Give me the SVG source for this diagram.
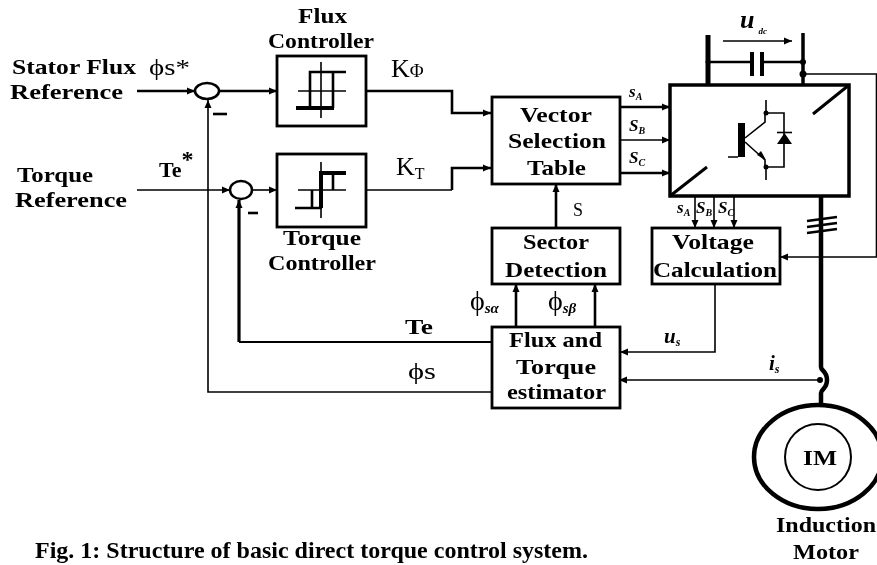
<svg xmlns="http://www.w3.org/2000/svg" width="877" height="565" viewBox="0 0 877 565">
<defs>
<marker id="a" markerWidth="9" markerHeight="8" refX="8" refY="4" orient="auto" markerUnits="userSpaceOnUse"><path d="M0,0.5L8,4L0,7.5Z" fill="#000"/></marker>
<marker id="b" markerWidth="9" markerHeight="8" refX="1" refY="4" orient="auto" markerUnits="userSpaceOnUse"><path d="M8,0.5L0,4L8,7.5Z" fill="#000"/></marker>
<filter id="soft" x="0" y="0" width="100%" height="100%"><feGaussianBlur stdDeviation="0.45"/></filter>
</defs>
<style>
text{font-family:"Liberation Serif","Times New Roman",serif;fill:#000}
.t{font-weight:bold;font-size:22px}
.n{font-size:24px}
.i{font-weight:bold;font-style:italic}
.box{fill:#fff;stroke:#000;stroke-width:2.800}
.w{fill:none;stroke:#000;stroke-width:1.600}
.m{fill:none;stroke:#000;stroke-width:2.600}
.h{fill:none;stroke:#000;stroke-width:4.500}
.ar{marker-end:url(#a)}
</style>
<rect width="877" height="565" fill="#fff"/>
<g filter="url(#soft)">
<g id="connectors">
<path class="m ar" d="M137 91H195"/>
<path class="m ar" d="M219 91H277"/>
<path class="w ar" d="M137 190H230"/>
<path class="w ar" d="M252 190H277"/>
<path class="w ar" d="M491 392H208V100"/>
<path class="w" d="M491 342H239" style="stroke-width:2"/>
<path class="m ar" d="M239 342V200" style="stroke-width:3.200"/>
<path class="m ar" d="M366 91H452V113H491"/>
<path class="w" d="M366 190H452"/>
<path class="m ar" d="M452 190V168H491"/>
<path class="m ar" d="M620 107H670"/>
<path class="w ar" d="M620 140H670"/>
<path class="m ar" d="M620 173H670"/>
<path class="m ar" d="M556 228V184"/>
<path class="m ar" d="M516 327V284"/>
<path class="m ar" d="M595 327V284"/>
<path class="w ar" d="M695 196V228"/>
<path class="w ar" d="M714 196V228"/>
<path class="w ar" d="M734 196V228"/>
<path class="w ar" d="M715 284V352H620"/>
<path class="w" d="M803 74H876.500V257H780" marker-end="url(#a)"/>
<path class="w" d="M620 380H820" marker-start="url(#b)"/>
<circle cx="820" cy="380" r="3"/>
<path class="h" d="M708 35V85" style="stroke-width:5"/>
<path class="m" d="M803 33V85" style="stroke-width:3.500"/>
<path class="m" d="M708 62H752M762 62H803"/>
<path class="w ar" d="M723 41H792"/>
<path class="h" d="M821 196V367C821 371 827 371 827 380C827 389 821 389 821 393V405"/>
<path class="m" d="M807 221L837 217M807 227L837 223M807 233L837 229"/>
<circle cx="708" cy="62" r="2.500"/><circle cx="803" cy="62" r="3"/><circle cx="803" cy="74" r="3.500"/>
</g>
<g id="sum1"><ellipse cx="207" cy="91" rx="12" ry="8" fill="#fff" stroke="#000" stroke-width="2.500"/><path class="m" d="M213 114H227"/></g>
<g id="sum2"><ellipse cx="241" cy="190" rx="11" ry="9" fill="#fff" stroke="#000" stroke-width="2.500"/><path class="m" d="M248 213H258"/></g>
<g id="flux-controller"><rect class="box" x="277" y="56" width="89" height="70"/>
<path class="w" d="M321 62V118M298 91H346"/>
<path class="m" d="M346 72H310V108M333 72V108"/><path class="h" d="M296 108H334" style="stroke-width:4"/>
<text class="t" x="298" y="23" textLength="49" lengthAdjust="spacingAndGlyphs">Flux</text><text class="t" x="268" y="48" textLength="106" lengthAdjust="spacingAndGlyphs">Controller</text></g>
<g id="torque-controller"><rect class="box" x="277" y="154" width="89" height="73"/>
<path class="w" d="M321 162V218M298 190H346"/>
<path class="h" d="M346 173H321V208" style="stroke-width:4"/><path class="m" d="M333 173V190M295 208H322M312 190V208"/>
<text class="t" x="283" y="245" textLength="78" lengthAdjust="spacingAndGlyphs">Torque</text><text class="t" x="268" y="270" textLength="108" lengthAdjust="spacingAndGlyphs">Controller</text></g>
<g id="vector-table"><rect class="box" x="492" y="97" width="128" height="87"/>
<text class="t" x="520" y="122" textLength="72" lengthAdjust="spacingAndGlyphs">Vector</text><text class="t" x="508" y="148" textLength="98" lengthAdjust="spacingAndGlyphs">Selection</text><text class="t" x="527" y="175" textLength="59" lengthAdjust="spacingAndGlyphs">Table</text></g>
<g id="sector"><rect class="box" x="492" y="228" width="128" height="56"/>
<text class="t" x="523" y="249" textLength="66" lengthAdjust="spacingAndGlyphs">Sector</text><text class="t" x="505" y="277" textLength="102" lengthAdjust="spacingAndGlyphs">Detection</text></g>
<g id="voltage"><rect class="box" x="652" y="228" width="128" height="56"/>
<text class="t" x="672" y="249" textLength="82" lengthAdjust="spacingAndGlyphs">Voltage</text><text class="t" x="653" y="277" textLength="124" lengthAdjust="spacingAndGlyphs">Calculation</text></g>
<g id="estimator"><rect class="box" x="492" y="327" width="128" height="81"/>
<text class="t" x="509" y="347" textLength="93" lengthAdjust="spacingAndGlyphs">Flux and</text><text class="t" x="516" y="374" textLength="80" lengthAdjust="spacingAndGlyphs">Torque</text><text class="t" x="507" y="399" textLength="99" lengthAdjust="spacingAndGlyphs">estimator</text></g>
<g id="inverter"><rect x="670" y="85" width="179" height="111" fill="#fff" stroke="#000" stroke-width="3.500"/>
<path class="m" d="M849 85L813 114M670 196L707 167" style="stroke-width:3"/>
<path class="h" d="M741.500 123V157" style="stroke-width:7"/>
<path class="w" d="M728 157H738M745 138L765 122V113M745 142L765 160V168M766 100V113M766 168V180M766 113H784V167H766"/>
<path d="M777 144H792L784.500 133Z"/><path class="w" d="M777 132.500H792"/>
<circle cx="766" cy="113" r="2.500"/><circle cx="766" cy="167" r="2.500"/><path d="M757 155L766 160L761 151Z"/>
</g>
<path id="capacitor" d="M752 52V76M762 52V76" fill="none" stroke="#000" stroke-width="4"/>
<g id="motor"><ellipse cx="818" cy="457" rx="64" ry="52" fill="#fff" stroke="#000" stroke-width="4.500"/><ellipse cx="818" cy="457" rx="33" ry="33" fill="#fff" stroke="#000" stroke-width="2"/>
<text class="t" x="803" y="465" textLength="34" lengthAdjust="spacingAndGlyphs">IM</text><text class="t" x="776" y="532" textLength="100" lengthAdjust="spacingAndGlyphs">Induction</text><text class="t" x="793" y="559" textLength="66" lengthAdjust="spacingAndGlyphs">Motor</text></g>
<g id="labels">
<text class="t" x="12" y="74" textLength="124" lengthAdjust="spacingAndGlyphs">Stator Flux</text><text class="t" x="10" y="99" textLength="113" lengthAdjust="spacingAndGlyphs">Reference</text>
<text class="n" x="149" y="75" textLength="41" lengthAdjust="spacingAndGlyphs">ϕs*</text>
<text x="391" y="77" font-size="26">K<tspan font-size="19">Φ</tspan></text><text x="396" y="175" font-size="26">K<tspan font-size="16" dy="4">T</tspan></text>
<text class="t" x="17" y="182" textLength="76" lengthAdjust="spacingAndGlyphs">Torque</text><text class="t" x="15" y="207" textLength="112" lengthAdjust="spacingAndGlyphs">Reference</text>
<text class="t" x="159" y="177">Te<tspan font-size="24" dy="-10">*</tspan></text>
<text class="i" font-size="17" x="629" y="97">s<tspan font-size="10" dy="3">A</tspan></text>
<text class="i" font-size="17" x="629" y="131">S<tspan font-size="10" dy="3">B</tspan></text>
<text class="i" font-size="17" x="629" y="163">S<tspan font-size="10" dy="3">C</tspan></text>
<text class="i" font-size="17" x="677" y="213">s<tspan font-size="10" dy="3">A</tspan></text>
<text class="i" font-size="17" x="696" y="213">S<tspan font-size="10" dy="3">B</tspan></text>
<text class="i" font-size="17" x="718" y="213">S<tspan font-size="10" dy="3">C</tspan></text>
<text class="i" font-size="26" x="740" y="28">u<tspan font-size="9" dx="4" dy="6">dc</tspan></text>
<text x="573" y="216" font-size="18" font-family="Liberation Sans" fill="#333">S</text>
<text x="470" y="310" font-size="28">ϕ<tspan class="i" font-size="15" dy="3">sα</tspan></text>
<text x="548" y="310" font-size="28">ϕ<tspan class="i" font-size="15" dy="3">sβ</tspan></text>
<text class="t" x="405" y="334" textLength="28" lengthAdjust="spacingAndGlyphs">Te</text><text class="n" x="408" y="379" textLength="28" lengthAdjust="spacingAndGlyphs">ϕs</text>
<text class="i" font-size="21" x="664" y="343">u<tspan font-size="12" dy="3">s</tspan></text>
<text class="i" font-size="21" x="769" y="370">i<tspan font-size="12" dy="3">s</tspan></text>
<text font-weight="bold" font-size="24" x="35" y="558" textLength="553" lengthAdjust="spacingAndGlyphs">Fig. 1: Structure of basic direct torque control system.</text>
</g>
</g>
</svg>
